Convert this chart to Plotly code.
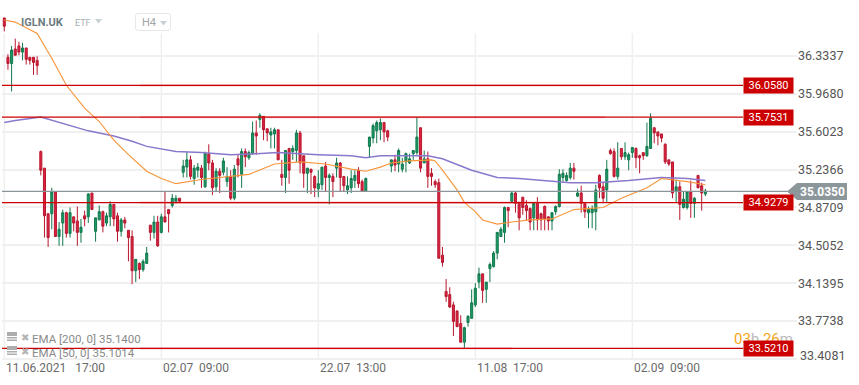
import plotly.graph_objects as go

# OHLC. direction: R = close below open, G = close above open
direction = ("RRGRRGRRRR" "RRRGRGGRGR" "RGRGRGGRGG" "RRGRRRGRGG" "RGRGRRGGRG" "GRGGRGRRGR" "GGRGRGRGGR" "GRRGGRRGRG" "GRRGRRGGRG" "RGRRGGGRRG"
             "GGGGRRGRGG" "GGGGRGRRRR" "RRRRRRGGGG" "GRGGGGGGRG" "RRRRRGRRRR" "GGGGGGRGRR" "GGGRRGRRGR" "GGGRRRGGRR" "RRRRGRGGRG" "RRG")
highs = [36.71,36.36,36.44,36.51,36.48,36.47,36.42,36.33,36.33,36.34,35.43,35.26,34.82,35.07,35.03,34.74,34.86,34.84,34.88,34.79,34.89,34.77,34.85,35.02,35.02,34.78,34.90,34.85,34.83,34.94,34.91,34.83,34.78,34.79,34.66,34.66,34.38,34.35,34.38,34.50,34.71,34.80,34.80,34.82,35.04,34.86,35.01,35.00,34.97,
35.34,35.42,35.38,35.29,35.31,35.29,35.42,35.49,35.34,35.26,35.26,35.36,35.27,35.24,35.29,35.39,35.45,35.45,35.43,35.71,35.72,35.79,35.76,35.64,35.65,35.65,35.63,35.34,35.43,35.45,35.48,35.63,35.62,35.38,35.26,35.25,35.19,35.24,35.27,35.32,35.21,35.21,35.36,35.32,35.18,35.18,35.24,35.24,35.27,35.15,35.17,
35.56,35.69,35.72,35.74,35.70,35.63,35.34,35.39,35.45,35.36,35.41,35.40,35.43,35.75,35.65,35.43,35.42,35.26,35.15,35.16,34.50,34.19,34.11,33.97,33.89,33.84,33.73,33.84,34.09,34.15,34.30,34.24,34.16,34.35,34.46,34.64,34.69,34.89,34.88,35.03,35.03,34.93,34.98,34.95,34.88,34.92,34.98,34.83,34.90,34.79,34.83,34.90,
35.25,35.25,35.22,35.31,35.31,35.06,35.09,34.92,34.89,34.90,35.10,35.20,35.12,35.34,35.45,35.45,35.51,35.45,35.51,35.41,35.46,35.46,35.39,35.41,35.70,35.79,35.65,35.61,35.59,35.50,35.34,35.32,35.15,35.13,35.03,35.03,35.14,34.98,35.19,35.12,35.06]
body_tops = [36.71,36.33,36.40,36.41,36.44,36.42,36.42,36.33,36.33,36.30,35.42,35.26,34.82,35.03,35.03,34.67,34.83,34.83,34.83,34.79,34.75,34.69,34.80,35.01,35.02,34.78,34.84,34.84,34.80,34.91,34.91,34.80,34.76,34.76,34.66,34.60,34.38,34.34,34.36,34.44,34.71,34.74,34.74,34.79,34.79,34.86,34.97,34.97,34.97,
35.28,35.34,35.34,35.26,35.27,35.26,35.40,35.40,35.31,35.23,35.23,35.33,35.18,35.18,35.25,35.35,35.42,35.42,35.41,35.60,35.60,35.77,35.76,35.64,35.61,35.63,35.63,35.20,35.43,35.45,35.45,35.60,35.60,35.38,35.26,35.25,35.18,35.11,35.27,35.28,35.19,35.18,35.31,35.31,35.18,35.09,35.16,35.19,35.24,35.13,35.16,
35.56,35.67,35.70,35.70,35.70,35.62,35.34,35.34,35.43,35.30,35.40,35.35,35.43,35.56,35.65,35.35,35.35,35.21,35.13,35.12,34.42,34.07,34.04,33.94,33.88,33.76,33.72,33.83,33.96,34.10,34.24,34.24,34.16,34.33,34.44,34.64,34.67,34.88,34.88,35.02,35.02,34.93,34.98,34.90,34.87,34.92,34.92,34.82,34.89,34.79,34.83,34.89,
35.20,35.21,35.19,35.26,35.26,35.02,35.02,34.92,34.86,34.87,35.05,35.19,35.08,35.25,35.43,35.42,35.26,35.45,35.41,35.39,35.46,35.45,35.38,35.41,35.47,35.74,35.65,35.61,35.59,35.49,35.34,35.32,35.08,35.08,34.96,35.03,35.03,34.97,35.19,35.09,35.04]
body_bottoms = [36.63,36.27,36.27,36.35,36.38,36.38,36.31,36.30,36.28,36.25,35.24,34.80,34.59,34.82,34.60,34.60,34.73,34.63,34.63,34.73,34.64,34.64,34.77,34.79,34.86,34.65,34.76,34.70,34.73,34.79,34.77,34.65,34.65,34.73,34.59,34.27,34.27,34.28,34.28,34.34,34.64,34.64,34.51,34.64,34.74,34.82,34.90,34.94,34.94,
35.22,35.27,35.18,35.16,35.24,35.17,35.08,35.31,35.07,35.08,35.19,35.22,35.13,34.97,34.97,35.29,35.20,35.37,35.36,35.40,35.57,35.73,35.63,35.60,35.58,35.59,35.34,35.17,35.17,35.24,35.42,35.43,35.31,35.21,35.21,35.22,35.07,35.06,35.10,35.17,35.17,35.13,35.26,35.17,35.09,35.05,35.07,35.14,35.11,35.04,35.04,
35.47,35.55,35.62,35.63,35.61,35.56,35.28,35.29,35.30,35.25,35.32,35.31,35.40,35.41,35.26,35.31,35.18,35.18,35.10,34.39,34.35,34.02,33.92,33.78,33.73,33.58,33.58,33.77,33.81,33.94,34.16,34.08,34.09,34.29,34.31,34.44,34.60,34.64,34.85,34.94,34.92,34.78,34.88,34.85,34.74,34.78,34.76,34.76,34.77,34.75,34.75,34.84,
34.89,35.17,35.14,35.17,35.23,34.99,34.92,34.84,34.83,34.83,34.84,35.07,34.97,35.05,35.40,35.18,35.18,35.37,35.37,35.34,35.41,35.36,35.36,35.38,35.38,35.45,35.60,35.57,35.55,35.32,35.30,35.02,35.04,34.91,34.88,34.88,34.92,34.92,35.07,35.02,35.01]
lows = [36.58,36.21,36.00,36.35,36.35,36.30,36.26,36.26,36.16,36.16,35.19,34.59,34.50,34.67,34.60,34.51,34.51,34.59,34.59,34.65,34.51,34.54,34.70,34.73,34.86,34.55,34.76,34.64,34.70,34.70,34.70,34.55,34.60,34.68,34.36,34.14,34.16,34.19,34.26,34.34,34.56,34.58,34.50,34.63,34.74,34.64,34.88,34.92,34.93,
35.17,35.17,35.15,35.10,35.17,35.07,35.07,35.24,35.00,35.03,35.02,35.19,35.08,34.95,34.95,35.17,35.07,35.27,35.34,35.39,35.39,35.65,35.53,35.52,35.45,35.45,35.34,35.09,35.02,35.11,35.34,35.32,35.21,35.07,35.02,35.01,34.98,34.98,35.05,35.03,34.91,34.98,35.17,35.03,35.03,35.01,35.02,35.07,35.07,35.03,35.03,
35.36,35.50,35.50,35.53,35.51,35.52,35.22,35.23,35.22,35.22,35.22,35.30,35.34,35.39,35.22,35.31,35.07,35.09,35.07,34.39,34.31,33.97,33.91,33.64,33.73,33.58,33.52,33.73,33.81,33.92,34.10,33.96,33.96,34.16,34.30,34.38,34.60,34.54,34.69,34.93,34.83,34.66,34.81,34.76,34.66,34.66,34.66,34.66,34.66,34.66,34.66,34.81,
34.88,35.13,35.13,35.15,35.15,34.98,34.83,34.78,34.68,34.68,34.66,34.97,34.93,34.93,35.39,35.17,35.15,35.34,35.34,35.24,35.36,35.26,35.21,35.34,35.37,35.45,35.50,35.48,35.51,35.30,35.28,34.97,34.93,34.76,34.87,34.86,34.78,34.78,35.07,34.85,34.99]

ema200_bars = [0,3,10,15,23,30,35,39,47,54,62,69,75,86,95,99,103,116,120,128,135,141,148,155,162,171,180,187,192]
ema200 = [35.70,35.72,35.754,35.70,35.62,35.57,35.52,35.47,35.42,35.41,35.39,35.40,35.41,35.39,35.38,35.36,35.38,35.38,35.35,35.24,35.17,35.16,35.14,35.12,35.12,35.14,35.17,35.16,35.14]
ema50_bars = [0,3,9,13,17,22,26,30,34,39,43,47,54,62,67,74,78,81,88,95,99,103,106,111,117,118,120,124,126,129,131,135,139,144,150,156,164,169,176,180,187,192]
ema50 = [36.69,36.67,36.56,36.32,36.06,35.84,35.71,35.53,35.39,35.23,35.16,35.11,35.15,35.18,35.20,35.30,35.31,35.32,35.30,35.25,35.23,35.27,35.31,35.33,35.34,35.33,35.24,35.05,34.93,34.84,34.76,34.72,34.74,34.76,34.77,34.86,34.88,34.97,35.07,35.16,35.13,35.10]

price_lines = [36.0580, 35.7531, 34.9279, 33.5210]
price_line_labels = ["36.0580", "35.7531", "34.9279", "33.5210"]
current_price = 35.0350
current_label = "35.0350"

y_ticks = [36.3337, 35.9680, 35.6023, 35.2366, 34.8709, 34.5052, 34.1395, 33.7738, 33.4081]
y_labels = ["36.3337", "35.9680", "35.6023", "35.2366", "34.8709", "34.5052", "34.1395", "33.7738", ""]
date_bars = [0, 43, 86, 129, 172]
date_labels = ["11.06.2021\u00a0\u00a0\u00a017:00", "02.07\u00a0\u00a009:00", "22.07\u00a0\u00a013:00", "11.08\u00a0\u00a017:00", "02.09\u00a0\u00a009:00"]

W, H = 859, 385
L, R, B = 2, 797, 360
def xp(px): return (px - L) / (R - L)
def yp(py): return (B - py) / B

bars = list(range(len(highs)))
opens = [t if d == "R" else b for d, t, b in zip(direction, body_tops, body_bottoms)]
closes = [b if d == "R" else t for d, t, b in zip(direction, body_tops, body_bottoms)]

fig = go.Figure()
fig.add_trace(go.Scatter(x=ema200_bars, y=ema200, mode="lines", line=dict(color="#8a78cc", width=1.5), hoverinfo="skip", showlegend=False))
fig.add_trace(go.Candlestick(x=bars, open=opens, high=highs, low=lows, close=closes, showlegend=False, hoverinfo="skip", whiskerwidth=0,
    increasing=dict(line=dict(color="#12784e", width=1), fillcolor="#1b9a64"),
    decreasing=dict(line=dict(color="#b8182f", width=1), fillcolor="#dc2340")))
fig.add_trace(go.Scatter(x=ema50_bars, y=ema50, mode="lines", line=dict(color="#f6963c", width=1.15), hoverinfo="skip", showlegend=False))

shapes = []
for b in date_bars:
    shapes.append(dict(type="line", xref="x", yref="paper", x0=b, x1=b, y0=yp(360), y1=yp(33), line=dict(color="#f0f0f0", width=1.5), layer="below"))
pink_ends = [600, 605, 585, 512]
for v, e in zip(price_lines, pink_ends):
    shapes.append(dict(type="line", xref="paper", yref="y", x0=xp(140), x1=xp(e), y0=v, y1=v, line=dict(color="rgba(225,80,90,0.3)", width=2.2)))
    shapes.append(dict(type="line", xref="paper", yref="y", x0=0, x1=xp(743), y0=v, y1=v, line=dict(color="#cc0000", width=1.2)))
shapes.append(dict(type="line", xref="paper", yref="y", x0=0, x1=xp(790), y0=current_price, y1=current_price, line=dict(color="#8b9599", width=1.2)))
# current-price tag
shapes.append(dict(type="path", xref="paper", yref="paper", line=dict(width=0), fillcolor="#8c979b",
    path=f"M{xp(787)},{yp(191.5)} L{xp(797)},{yp(183)} L{xp(847)},{yp(183)} L{xp(847)},{yp(200)} L{xp(797)},{yp(200)} Z"))
# header widgets
for a, b, c in [(95, 102, 19), (160, 167, 21)]:
    shapes.append(dict(type="path", xref="paper", yref="paper", line=dict(width=0), fillcolor="#c9d0d3",
        path=f"M{xp(a)},{yp(c)} L{xp(b)},{yp(c)} L{xp((a+b)/2)},{yp(c+4.5)} Z"))
shapes.append(dict(type="path", xref="paper", yref="paper", line=dict(color="#e8e8e8", width=1), fillcolor="rgba(0,0,0,0)",
    path=f"M{xp(138)},{yp(13.5)} L{xp(168)},{yp(13.5)} Q{xp(170.5)},{yp(13.5)} {xp(170.5)},{yp(16)} L{xp(170.5)},{yp(28)} Q{xp(170.5)},{yp(30.5)} {xp(168)},{yp(30.5)} L{xp(138)},{yp(30.5)} Q{xp(135.5)},{yp(30.5)} {xp(135.5)},{yp(28)} L{xp(135.5)},{yp(16)} Q{xp(135.5)},{yp(13.5)} {xp(138)},{yp(13.5)} Z"))
# study-legend icons
for top in (332, 346):
    for dy, h in ((0, 4), (5, 1.5), (7.5, 1.5)):
        shapes.append(dict(type="rect", xref="paper", yref="paper", x0=xp(7), x1=xp(17), y0=yp(top + dy), y1=yp(top + dy + h), fillcolor="#adadad", line=dict(width=0)))

ann = []
def note(text, px, py, size, color, anchor="left", family="Roboto", **kw):
    ann.append(dict(text=text, xref="paper", yref="paper", x=xp(px), y=yp(py), xanchor=anchor, yanchor="middle", showarrow=False, font=dict(family=family, size=size, color=color), **kw))

note("<b>IGLN.UK</b>", 19, 22.5, 11, "#6d7b80")
note("ETF", 73, 23, 9, "#a4afb3")
note("H4", 140, 22.5, 11, "#a0a6a8")
note("EMA\u00a0[200,\u00a00]\u00a035.1400", 30, 338.5, 11.5, "#8a8a8a")
note("EMA\u00a0[50,\u00a00]\u00a035.1014", 30, 352.5, 11.5, "#8a8a8a")
note("\u2716", 19, 337, 10, "#b5b5b5", family="DejaVu Sans")
note("\u2716", 19, 351, 10, "#b5b5b5", family="DejaVu Sans")
note('<span style="color:#f5a623">03</span><span style="color:#bbbbbb">h</span> <span style="color:#f5a623">26</span><span style="color:#bbbbbb">m</span>', 732, 338.5, 15, "#f5a623")
for b, t in zip(date_bars, date_labels):
    ann.append(dict(text=t, xref="x", yref="paper", x=b, y=yp(368), xanchor="left", yanchor="middle", showarrow=False, font=dict(family="Roboto", size=12, color="#6a6a6a")))
for v, t in zip(price_lines, price_line_labels):
    ann.append(dict(text=t, xref="paper", yref="y", x=xp(743), y=v, xanchor="left", yanchor="middle", showarrow=False, width=49, height=15, bgcolor="#cc0000", borderpad=0, align="center", font=dict(family="Roboto", size=11, color="#ffffff")))
note("<b>" + current_label + "</b>", 797.5, 191.5, 12, "#ffffff")
note("33.4081", 798, 355, 12.5, "#555555")

fig.update_layout(
    width=W, height=H, paper_bgcolor="white", plot_bgcolor="white", dragmode=False,
    margin=dict(l=L, r=W - R, t=0, b=H - B), showlegend=False, boxgap=0.2,
    shapes=shapes, annotations=ann,
    xaxis=dict(range=[-0.63, 217.1], showgrid=False, zeroline=False, showticklabels=False, ticks="", showline=False, rangeslider=dict(visible=False), fixedrange=True),
    yaxis=dict(range=[33.4081, 36.883], side="right", tickvals=[v + 0.01 for v in y_ticks], ticktext=y_labels, ticks="",
               showgrid=True, gridcolor="#f0f0f0", gridwidth=1.5, zeroline=False, showline=False, fixedrange=True,
               tickfont=dict(family="Roboto", size=12.5, color="#555555"), automargin=False),
)
fig.write_html("out.html", config=dict(displayModeBar=False), post_script="document.body.style.margin='0';document.documentElement.style.overflow='hidden';")
